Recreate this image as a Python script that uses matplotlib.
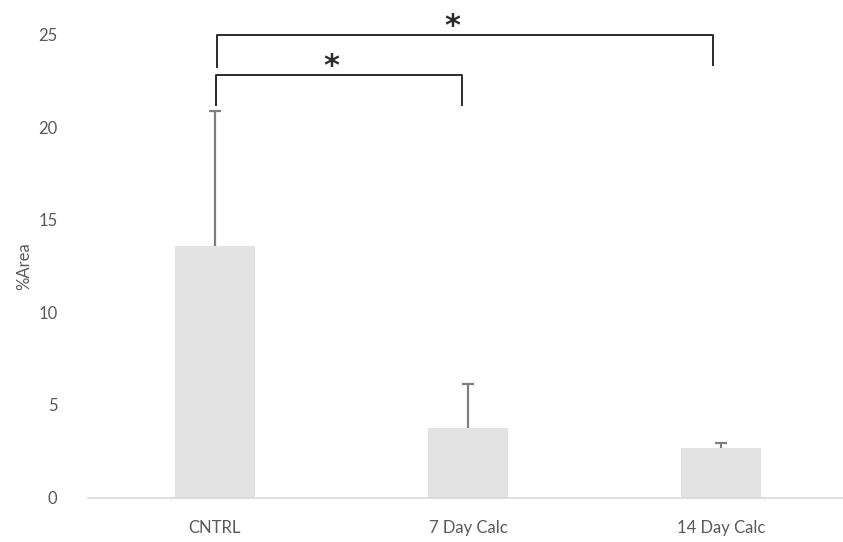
import numpy as np
import matplotlib.pyplot as plt

plt.rcParams['font.family'] = ['Lato', 'DejaVu Sans']

groups = ['CNTRL', '7 Day Calc', '14 Day Calc']
area_mean = [13.58, 3.75, 2.67]
area_err_plus = [7.29, 2.38, 0.27]

# significance brackets (x in category units): left, right, top, left leg end, right leg end
br_left = [0.01, 0.005]
br_right = [1.965, 0.975]
br_top = [25.0, 22.8]
br_left_end = [23.25, 21.2]
br_right_end = [23.35, 21.2]
star_x = [0.94, 0.46]
star_y = [25.45, 23.3]

fig = plt.figure(figsize=(8.43, 5.42), dpi=100)
ax = fig.add_axes([0.1044, 0.0821, 0.9016, 0.8542])

x = np.arange(len(groups))
ax.bar(x, area_mean, width=0.315, color='#e3e3e3', zorder=2)
eb = ax.errorbar(x, area_mean, yerr=[np.zeros(len(groups)), area_err_plus],
                 fmt='none', ecolor='#7f7f7f', elinewidth=1.6, capsize=4.3,
                 capthick=1.6, zorder=3)
eb[1][0].set_visible(False)  # only plus side like excel

for i in range(len(br_left)):
    ax.plot([br_left[i], br_left[i], br_right[i], br_right[i]],
            [br_left_end[i], br_top[i], br_top[i], br_right_end[i]],
            color='#2b2b2b', lw=1.4, clip_on=False, zorder=4)
    ax.text(star_x[i], star_y[i], '*', fontsize=22, fontweight='bold',
            ha='center', va='center', color='#2b2b2b',
            family='DejaVu Sans', clip_on=False)

ax.set_xlim(-0.5, 2.5)
ax.set_ylim(0, 25)
ax.set_yticks([0, 5, 10, 15, 20, 25])
ax.set_xticks(x)
ax.set_xticklabels(groups)
ax.tick_params(axis='both', length=0, labelsize=12, labelcolor='#595959')
ax.tick_params(axis='x', pad=16)
ax.tick_params(axis='y', pad=22)
for s in ['top', 'right', 'left']:
    ax.spines[s].set_visible(False)
ax.spines['bottom'].set_color('#d9d9d9')
ax.spines['bottom'].set_linewidth(1.2)
ax.set_ylabel('%Area', fontsize=12, color='#595959', labelpad=4)

fig.savefig('out.png', dpi=100)
